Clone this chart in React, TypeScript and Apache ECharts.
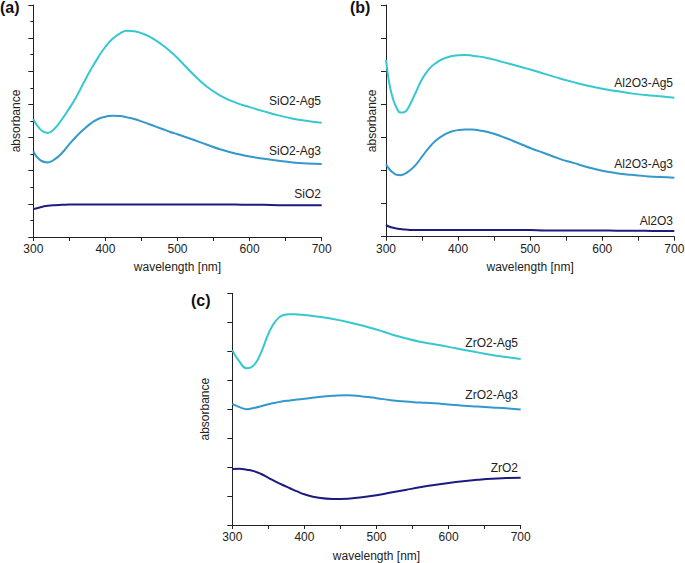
import React, { useEffect, useRef } from "react";
import * as echarts from "echarts";

// Panel (a) SiO2
const wlA = [300, 310, 320, 330, 340, 350, 360, 370, 380, 390, 400, 410, 420, 430, 440, 450, 460, 470, 480, 490, 500, 520, 540, 560, 580, 600, 620, 640, 660, 680, 700];
const sio2Ag5 = [3.56, 3.24, 3.14, 3.28, 3.56, 3.88, 4.24, 4.66, 5.06, 5.42, 5.74, 5.98, 6.14, 6.22, 6.21, 6.15, 6.06, 5.93, 5.78, 5.60, 5.40, 4.95, 4.55, 4.26, 4.06, 3.92, 3.79, 3.67, 3.57, 3.50, 3.45];
const sio2Ag3 = [2.58, 2.31, 2.25, 2.35, 2.54, 2.80, 3.04, 3.25, 3.43, 3.56, 3.63, 3.66, 3.65, 3.61, 3.56, 3.49, 3.41, 3.33, 3.25, 3.17, 3.10, 2.95, 2.79, 2.64, 2.52, 2.43, 2.36, 2.30, 2.25, 2.22, 2.20];
const sio2 = [0.84, 0.90, 0.94, 0.96, 0.97, 0.98, 0.98, 0.98, 0.98, 0.98, 0.98, 0.98, 0.98, 0.98, 0.98, 0.98, 0.98, 0.98, 0.98, 0.98, 0.98, 0.98, 0.98, 0.98, 0.98, 0.97, 0.97, 0.96, 0.96, 0.96, 0.96];

// Panel (b) Al2O3
const wlB = [300, 305, 310, 315, 320, 325, 330, 340, 350, 360, 370, 380, 390, 400, 410, 420, 430, 440, 450, 460, 470, 480, 490, 500, 520, 540, 560, 580, 600, 620, 640, 660, 680, 700];
const al2o3Ag5 = [5.34, 4.58, 4.15, 3.88, 3.75, 3.76, 3.86, 4.30, 4.76, 5.07, 5.26, 5.38, 5.45, 5.48, 5.49, 5.47, 5.44, 5.40, 5.35, 5.29, 5.23, 5.17, 5.11, 5.05, 4.92, 4.79, 4.67, 4.56, 4.47, 4.40, 4.33, 4.28, 4.24, 4.20];
const al2o3Ag3 = [2.19, 2.03, 1.93, 1.87, 1.86, 1.89, 1.95, 2.14, 2.42, 2.70, 2.92, 3.07, 3.17, 3.22, 3.24, 3.24, 3.21, 3.17, 3.11, 3.03, 2.95, 2.86, 2.77, 2.68, 2.52, 2.36, 2.23, 2.10, 1.99, 1.92, 1.87, 1.83, 1.80, 1.78];
const al2o3 = [0.35, 0.30, 0.27, 0.25, 0.23, 0.22, 0.21, 0.20, 0.20, 0.20, 0.20, 0.20, 0.20, 0.20, 0.20, 0.20, 0.20, 0.20, 0.20, 0.20, 0.20, 0.20, 0.20, 0.20, 0.19, 0.19, 0.19, 0.19, 0.19, 0.18, 0.18, 0.18, 0.17, 0.17];

// Panel (c) ZrO2
const wlC = [300, 310, 320, 330, 340, 350, 360, 370, 380, 390, 400, 420, 440, 460, 480, 500, 520, 540, 560, 580, 600, 620, 640, 660, 680, 700];
const zro2Ag5 = [6.04, 5.64, 5.41, 5.52, 5.96, 6.60, 7.04, 7.24, 7.28, 7.27, 7.25, 7.19, 7.11, 7.01, 6.89, 6.75, 6.59, 6.45, 6.33, 6.24, 6.15, 6.05, 5.96, 5.87, 5.80, 5.73];
const zro2Ag3 = [4.18, 4.07, 4.00, 4.04, 4.10, 4.17, 4.22, 4.27, 4.30, 4.33, 4.36, 4.42, 4.46, 4.48, 4.44, 4.38, 4.31, 4.26, 4.23, 4.20, 4.16, 4.12, 4.09, 4.06, 4.03, 3.99];
const zro2 = [1.93, 1.94, 1.91, 1.86, 1.76, 1.63, 1.50, 1.38, 1.27, 1.16, 1.06, 0.94, 0.90, 0.91, 0.96, 1.03, 1.12, 1.21, 1.30, 1.38, 1.45, 1.51, 1.56, 1.60, 1.62, 1.63];

const seriesNamesA = ["SiO2-Ag5", "SiO2-Ag3", "SiO2"];
const seriesNamesB = ["Al2O3-Ag5", "Al2O3-Ag3", "Al2O3"];
const seriesNamesC = ["ZrO2-Ag5", "ZrO2-Ag3", "ZrO2"];
const panelLetters = ["(a)", "(b)", "(c)"];
const xTickMin = 300;
const xTickMax = 700;
const xTickStep = 100;
const xName = "wavelength [nm]";
const yName = "absorbance";

const COLORS = ["#35c8d0", "#3399cc", "#1b1b80"];
const FONT = "'Liberation Sans', Arial, Helvetica, sans-serif";
const TXT = "#222";

function pairs(x: number[], y: number[]) {
  return x.map((v, i) => [v, y[i]]);
}

export default function App() {
  const ref = useRef<HTMLDivElement>(null);
  useEffect(() => {
    if (!ref.current) return;
    const chart = echarts.init(ref.current, null, { renderer: "svg" });

    const grids = [
      { left: 33.3, top: 5, width: 288.4, height: 232 },
      { left: 386, top: 5, width: 288.3, height: 231.7 },
      { left: 232.3, top: 293.3, width: 288.4, height: 231.7 },
    ].map((g) => ({ ...g, containLabel: false, outerBoundsMode: "none", show: false }));

    const axisLine = { show: true, lineStyle: { color: "#222", width: 1 } };
    const xAxis = [0, 1, 2].map((i) => ({
      gridIndex: i,
      type: "value",
      min: xTickMin,
      max: xTickMax,
      interval: xTickStep,
      axisLine,
      axisTick: { show: true, length: 4, lineStyle: { color: "#222" } },
      minorTick: { show: true, splitNumber: 2, length: 4, lineStyle: { color: "#222" } },
      splitLine: { show: false },
      minorSplitLine: { show: false },
      axisLabel: { show: true, margin: 6, fontSize: 12, color: TXT, fontFamily: FONT },
      name: xName,
      nameLocation: "middle",
      nameGap: i === 2 ? 25 : 24,
      nameTextStyle: { fontSize: 12, color: TXT, fontFamily: FONT },
    }));

    const yCfg = [
      { max: 7, minor: true, gap: 11 },
      { max: 7, minor: false, gap: 8 },
      { max: 8, minor: false, gap: 21 },
    ];
    const yAxis = yCfg.map((c, i) => ({
      gridIndex: i,
      type: "value",
      min: 0,
      max: c.max,
      interval: 1,
      axisLine,
      axisTick: { show: true, length: 5, lineStyle: { color: "#222" } },
      minorTick: { show: c.minor, splitNumber: 2, length: 3, lineStyle: { color: "#222" } },
      splitLine: { show: false },
      minorSplitLine: { show: false },
      axisLabel: { show: false },
      name: yName,
      nameLocation: "middle",
      nameGap: c.gap,
      nameTextStyle: { fontSize: 12, color: TXT, fontFamily: FONT },
    }));

    const mk = (name: string, idx: number, x: number[], y: number[], color: string) => ({
      name,
      type: "line",
      xAxisIndex: idx,
      yAxisIndex: idx,
      data: pairs(x, y),
      smooth: 0.5,
      showSymbol: false,
      symbol: "none",
      lineStyle: { color, width: 2 },
      itemStyle: { color },
      z: 3,
    });

    const series = [
      mk(seriesNamesA[0], 0, wlA, sio2Ag5, COLORS[0]),
      mk(seriesNamesA[1], 0, wlA, sio2Ag3, COLORS[1]),
      mk(seriesNamesA[2], 0, wlA, sio2, COLORS[2]),
      mk(seriesNamesB[0], 1, wlB, al2o3Ag5, COLORS[0]),
      mk(seriesNamesB[1], 1, wlB, al2o3Ag3, COLORS[1]),
      mk(seriesNamesB[2], 1, wlB, al2o3, COLORS[2]),
      mk(seriesNamesC[0], 2, wlC, zro2Ag5, COLORS[0]),
      mk(seriesNamesC[1], 2, wlC, zro2Ag3, COLORS[1]),
      mk(seriesNamesC[2], 2, wlC, zro2, COLORS[2]),
    ];

    const lbl = (text: string, x: number, y: number) => ({
      type: "text",
      x,
      y,
      style: { text, fill: TXT, font: `12px ${FONT}`, align: "right", verticalAlign: "middle" },
    });
    const letter = (text: string, x: number, y: number) => ({
      type: "text",
      x,
      y,
      style: { text, fill: "#111", font: `bold 16px ${FONT}`, align: "left", verticalAlign: "middle" },
    });

    const graphic = [
      lbl(seriesNamesA[0], 321, 101),
      lbl(seriesNamesA[1], 321, 151),
      lbl(seriesNamesA[2], 321, 194),
      lbl(seriesNamesB[0], 673, 83),
      lbl(seriesNamesB[1], 673, 164),
      lbl(seriesNamesB[2], 673, 221),
      lbl(seriesNamesC[0], 518, 343),
      lbl(seriesNamesC[1], 518, 395),
      lbl(seriesNamesC[2], 518, 468),
      letter(panelLetters[0], 0, 7),
      letter(panelLetters[1], 350, 7),
      letter(panelLetters[2], 191, 300),
    ];

    chart.setOption({
      animation: false,
      backgroundColor: "#fff",
      textStyle: { fontFamily: FONT },
      grid: grids,
      xAxis,
      yAxis,
      series,
      graphic,
    } as any);

    return () => chart.dispose();
  }, []);

  return (
    <div
      ref={ref}
      style={{ position: "absolute", left: 0, top: 0, width: 685, height: 563, background: "#fff" }}
    />
  );
}
